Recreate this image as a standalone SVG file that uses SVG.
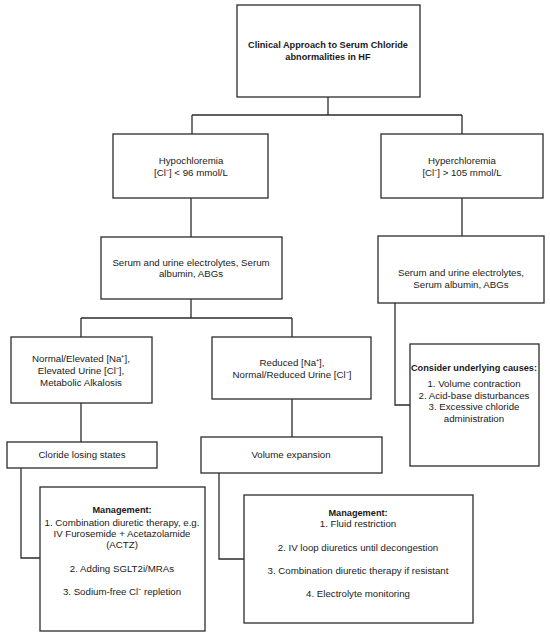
<svg xmlns="http://www.w3.org/2000/svg" width="550" height="637" viewBox="0 0 550 637">
<style>
.box{fill:#fff;stroke:#2b2b2b;stroke-width:1.3}
.ln{fill:none;stroke:#2b2b2b;stroke-width:1.3}
text{font-family:"Liberation Sans",Arial,sans-serif;font-size:9.7px;fill:#1a1a1a;text-anchor:middle}
.b{font-weight:bold;font-size:9.2px}
</style>
<rect width="550" height="637" fill="#fff"/>
<g id="connectors">
<path class="ln" d="M328 97V115M192 115H462M192 115V134M462 115V134"/>
<path class="ln" d="M191 198V237M462 198V236"/>
<path class="ln" d="M191 299V318M81 318H292M81 318V337M292 318V337"/>
<path class="ln" d="M81 403V442M292 399V437"/>
<path class="ln" d="M21 468V558H40M219 473V559H244"/>
<path class="ln" d="M395 303V405H410"/>
</g>
<g id="title"><rect class="box" x="237" y="5" width="183" height="92"/>
<text class="b" x="328" y="48">Clinical Approach to Serum Chloride</text>
<text class="b" x="328" y="60">abnormalities in HF</text></g>
<g id="hypo"><rect class="box" x="113" y="134" width="155" height="64"/>
<text x="191" y="164">Hypochloremia</text>
<text x="191" y="176">[Cl⁻] &lt; 96 mmol/L</text></g>
<g id="hyper"><rect class="box" x="381" y="134" width="162" height="64"/>
<text x="462" y="164">Hyperchloremia</text>
<text x="462" y="176">[Cl⁻] &gt; 105 mmol/L</text></g>
<g id="labs-left"><rect class="box" x="101" y="237" width="181" height="62"/>
<text x="191" y="266">Serum and urine electrolytes, Serum</text>
<text x="191" y="277">albumin, ABGs</text></g>
<g id="labs-right"><rect class="box" x="378" y="236" width="166" height="67"/>
<text x="461" y="276">Serum and urine electrolytes,</text>
<text x="461" y="288">Serum albumin, ABGs</text></g>
<g id="normal-na"><rect class="box" x="11" y="337" width="141" height="66"/>
<text x="81" y="362">Normal/Elevated [Na⁺],</text>
<text x="81" y="374">Elevated Urine [Cl⁻],</text>
<text x="81" y="386">Metabolic Alkalosis</text></g>
<g id="reduced-na"><rect class="box" x="212" y="337" width="159" height="62"/>
<text x="292" y="366">Reduced [Na⁺],</text>
<text x="292" y="378">Normal/Reduced Urine [Cl⁻]</text></g>
<g id="cloride"><rect class="box" x="7" y="442" width="150" height="26"/>
<text x="82" y="458">Cloride losing states</text></g>
<g id="volume"><rect class="box" x="201" y="437" width="181" height="36"/>
<text x="291" y="458">Volume expansion</text></g>
<g id="causes"><rect class="box" x="410" y="344" width="129" height="122"/>
<text class="b" x="474" y="371">Consider underlying causes:</text>
<text x="474" y="387">1. Volume contraction</text>
<text x="474" y="399">2. Acid-base disturbances</text>
<text x="474" y="410">3. Excessive chloride</text>
<text x="474" y="422">administration</text></g>
<g id="mgmt-left"><rect class="box" x="40" y="487" width="165" height="144"/>
<text class="b" x="122" y="513">Management:</text>
<text x="122" y="526">1. Combination diuretic therapy, e.g.</text>
<text x="122" y="537">IV Furosemide + Acetazolamide</text>
<text x="122" y="548">(ACTZ)</text>
<text x="122" y="572">2. Adding SGLT2i/MRAs</text>
<text x="122" y="595">3. Sodium-free Cl⁻ repletion</text></g>
<g id="mgmt-right"><rect class="box" x="244" y="495" width="229" height="128"/>
<text class="b" x="358" y="516">Management:</text>
<text x="358" y="527">1. Fluid restriction</text>
<text x="358" y="551">2. IV loop diuretics until decongestion</text>
<text x="358" y="574">3. Combination diuretic therapy if resistant</text>
<text x="358" y="597">4. Electrolyte monitoring</text></g>
</svg>
